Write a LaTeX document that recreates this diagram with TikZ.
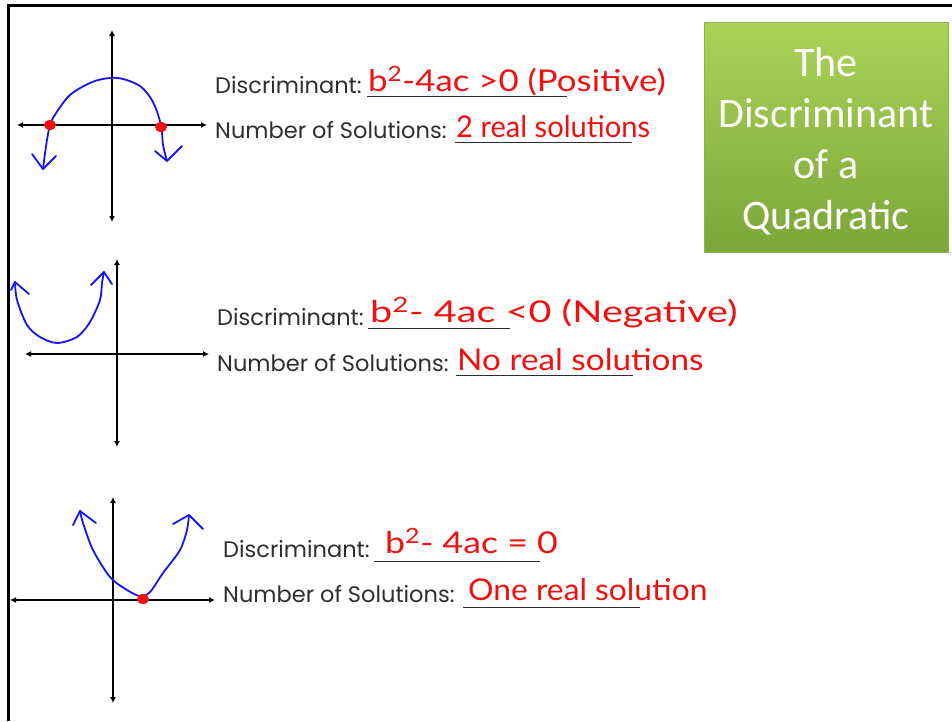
\documentclass[tikz,border=0pt]{standalone}
\usepackage{fontspec}
\setmainfont{Poppins}
\newfontfamily\titlefont{Carlito}
\newfontfamily\handfont{Lato}
\usetikzlibrary{arrows.meta}
\definecolor{labelgray}{HTML}{2E2E2E}
\definecolor{boxtop}{HTML}{AAD457}
\definecolor{boxbot}{HTML}{7BA639}
\definecolor{boxedge}{HTML}{8DB050}
\definecolor{inkred}{HTML}{F01010}
\definecolor{inkblue}{HTML}{1414F0}

\begin{document}
\begin{tikzpicture}[x=1pt,y=-1pt,
  axis/.style={line width=1.8pt,{Latex[length=6pt,width=6pt]}-{Latex[length=6pt,width=6pt]}},
  curve/.style={inkblue,line width=1.8pt,line cap=round,line join=round},
  root/.style={inkred,fill=inkred},
  lbl/.style={anchor=base west,inner sep=0pt,text=labelgray,font=\fontsize{22.5}{26}\selectfont},
  ans/.style={anchor=base west,inner sep=0pt,text=inkred,font=\handfont\fontsize{30}{34}\selectfont},
  blank/.style={line width=1pt,labelgray}]
\useasboundingbox (0,0) rectangle (952,721);
\draw[line width=3pt] (8,721) -- (8,5) -- (952,5);

% title box
\node (title) [minimum width=244pt,minimum height=230pt,inner sep=0pt,
  top color=boxtop,bottom color=boxbot,draw=boxedge] at (826,137) {};
\node (titletext) [text=white,align=center,font=\titlefont\fontsize{42}{51}\selectfont]
  at ([yshift=-4pt]title.center) {The\\Discriminant\\of a\\Quadratic};

% two real solutions
\draw[axis] (112,30) -- (112,222);
\draw[axis] (17,125) -- (207,125);
\draw[curve] plot[smooth] coordinates {(43,169) (47,140) (52,120) (70,95) (95,81) (118,78) (140,86) (153,102) (161,125) (163,145) (167,161)};
\draw[curve] (32,154) -- (43,169) -- (56,156);
\draw[curve] (155,151) -- (167,161) -- (182,146);
\fill[root] (50,125) ellipse (6 and 5);
\fill[root] (161,127) ellipse (6 and 5);
\node (disc1) [lbl] at (215,93) {Discriminant:};
\node (sol1) [lbl] at (215,138) {Number of Solutions:};
\draw[blank] (367,96) -- (567,96);
\draw[blank] (455,142) -- (632,142);
\node (ans1a) [ans] at (368,91) {\scalebox{1.16}[1]{b\textsuperscript{2}-4ac >0 (Positive)}};
\node (ans1b) [ans] at (456,137) {\scalebox{0.97}[1]{2 real solutions}};

% no real solutions
\draw[axis] (117,259) -- (117,447);
\draw[axis] (25,354) -- (209,354);
\draw[curve] plot[smooth] coordinates {(15,282) (17,300) (27,325) (40,337) (57,343) (77,337) (90,322) (100,300) (102,283) (104,272)};
\draw[curve] (11,290) -- (15,282) -- (29,294);
\draw[curve] (91,285) -- (104,272) -- (112,284);
\node (disc2) [lbl] at (217,325) {Discriminant:};
\node (sol2) [lbl] at (217,371) {Number of Solutions:};
\draw[blank] (368,328) -- (510,328);
\draw[blank] (456,375) -- (633,375);
\node (ans2a) [ans] at (370,322) {\scalebox{1.32}[1]{b\textsuperscript{2}- 4ac <0 (Negative)}};
\node (ans2b) [ans] at (457,370) {\scalebox{1.11}[1]{No real solutions}};

% one real solution
\draw[axis] (113,497) -- (113,703);
\draw[axis] (10,600) -- (215,600);
\draw[curve] plot[smooth] coordinates {(80,511) (83,523) (93,550) (110,577) (127,590) (140,596) (150,592) (163,573) (180,550) (187,530) (189,515)};
\draw[curve] (73,525) -- (80,511) -- (96,523);
\draw[curve] (173,524) -- (189,515) -- (203,529);
\fill[root] (143,599) ellipse (6 and 5);
\node (disc3) [lbl] at (223,557) {Discriminant:};
\node (sol3) [lbl] at (223,602) {Number of Solutions:};
\draw[blank] (374,561) -- (540,561);
\draw[blank] (463,607) -- (640,607);
\node (ans3a) [ans] at (385,553) {\scalebox{1.19}[1]{b\textsuperscript{2}- 4ac = 0}};
\node (ans3b) [ans] at (468,600) {\scalebox{1.06}[1]{One real solution}};
\end{tikzpicture}
\end{document}
